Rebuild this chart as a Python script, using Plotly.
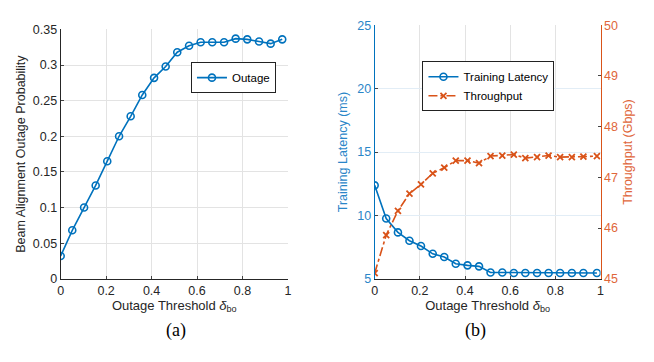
import plotly.graph_objects as go

# ---- data ----
x_thr = [0.0, 0.051, 0.103, 0.154, 0.205, 0.257, 0.308, 0.359, 0.411, 0.462,
         0.513, 0.565, 0.616, 0.667, 0.719, 0.770, 0.821, 0.873, 0.924, 0.975]
outage = [0.032, 0.068, 0.100, 0.131, 0.165, 0.200, 0.228, 0.258, 0.282, 0.298,
          0.318, 0.327, 0.332, 0.332, 0.332, 0.337, 0.336, 0.333, 0.330, 0.336]
x_thr_b = [0.0, 0.051, 0.103, 0.154, 0.205, 0.257, 0.308, 0.359, 0.411, 0.462,
           0.513, 0.565, 0.616, 0.667, 0.719, 0.770, 0.821, 0.873, 0.924, 0.984]
latency = [12.37, 9.75, 8.66, 8.0, 7.58, 6.97, 6.72, 6.19, 6.06, 5.98,
           5.5, 5.5, 5.45, 5.45, 5.45, 5.45, 5.45, 5.45, 5.45, 5.45]
throughput = [45.11, 45.86, 46.34, 46.68, 46.86, 47.08, 47.19, 47.33, 47.33, 47.28,
              47.42, 47.43, 47.45, 47.38, 47.40, 47.43, 47.40, 47.40, 47.41, 47.42]

x_ticks = [0, 0.2, 0.4, 0.6, 0.8, 1]
x_ticklabels = ["0", "0.2", "0.4", "0.6", "0.8", "1"]
y1_ticks = [0, 0.05, 0.1, 0.15, 0.2, 0.25, 0.3, 0.35]
y1_ticklabels = ["0", "0.05", "0.1", "0.15", "0.2", "0.25", "0.3", "0.35"]
y2_ticks = [5, 10, 15, 20, 25]
y3_ticks = [45, 46, 47, 48, 49, 50]

BLUE = "#0072BD"
BLUE_TXT = "#2a86c8"
ORANGE = "#D95319"
ORANGE_TXT = "#e0663a"
TXT = "#262626"
GRID = "#e3e3e3"
GRID_B = "#e2edf6"
FONT = "Liberation Sans"
SERIF = "Liberation Serif"

fig = go.Figure()

fig.add_trace(go.Scatter(
    x=x_thr, y=outage, name="Outage", mode="lines+markers",
    line=dict(color=BLUE, width=1.6),
    marker=dict(symbol="circle-open", size=7, color=BLUE, line=dict(width=1.6)),
    xaxis="x", yaxis="y", legend="legend"))

fig.add_trace(go.Scatter(
    x=x_thr_b, y=latency, name="Training Latency", mode="lines+markers",
    line=dict(color=BLUE, width=1.6),
    marker=dict(symbol="circle-open", size=7, color=BLUE, line=dict(width=1.6)),
    xaxis="x2", yaxis="y2", legend="legend2"))

fig.add_trace(go.Scatter(
    x=x_thr_b, y=throughput, name="Throughput", mode="lines+markers",
    line=dict(color=ORANGE, width=1.6, dash="dashdot"),
    marker=dict(symbol="x-thin-open", size=6, color=ORANGE, line=dict(width=1.8, color=ORANGE)),
    xaxis="x2", yaxis="y3", legend="legend2"))

bottom = 1 - 282.7 / 362
TICK = 12.5
XT = 13
YT = 12.5


def ax(**kw):
    base = dict(showgrid=True, gridcolor=GRID, gridwidth=1, zeroline=False,
                ticks="inside", ticklen=3, showline=True, mirror=False,
                tickfont=dict(family=FONT, size=TICK, color=TXT))
    base.update(kw)
    return base


fig.update_layout(
    width=654, height=362,
    margin=dict(l=0, r=0, t=0, b=0),
    paper_bgcolor="white", plot_bgcolor="white",
    font=dict(family=FONT, color=TXT),
    showlegend=True,
    xaxis=ax(domain=[58.3 / 654, 288 / 654], range=[0, 1], tickvals=x_ticks,
             ticktext=x_ticklabels, linecolor=TXT, anchor="y",
             title=dict(text="Outage Threshold <i>δ</i><sub>bo</sub>",
                        font=dict(family=FONT, size=XT, color=TXT), standoff=3)),
    yaxis=ax(domain=[bottom, 1 - 23.3 / 362], range=[0, 0.35], tickvals=y1_ticks,
             ticktext=y1_ticklabels, linecolor=TXT, anchor="x",
             title=dict(text="Beam Alignment Outage Probability",
                        font=dict(family=FONT, size=YT, color=TXT), standoff=4)),
    xaxis2=ax(domain=[375.7 / 654, 604 / 654], range=[0, 1], tickvals=x_ticks,
              ticktext=x_ticklabels, linecolor=TXT, anchor="y2",
              title=dict(text="Outage Threshold <i>δ</i><sub>bo</sub>",
                         font=dict(family=FONT, size=XT, color=TXT), standoff=3)),
    yaxis2=ax(domain=[bottom, 1 - 19 / 362], range=[5, 25], tickvals=y2_ticks,
              linecolor=BLUE, anchor="x2", gridcolor=GRID_B,
              tickfont=dict(family=FONT, size=TICK, color=BLUE_TXT),
              title=dict(text="Training Latency (ms)",
                         font=dict(family=FONT, size=YT, color=BLUE_TXT), standoff=6)),
    yaxis3=dict(range=[45, 50], tickvals=y3_ticks, overlaying="y2", side="right",
                anchor="x2", linecolor=ORANGE, showgrid=False, zeroline=False,
                ticks="inside", ticklen=3, showline=True,
                tickfont=dict(family=FONT, size=TICK, color=ORANGE_TXT),
                title=dict(text="Throughput (Gbps)",
                           font=dict(family=FONT, size=YT, color=ORANGE_TXT), standoff=6)),
    legend=dict(x=190 / 654, y=1 - 73.5 / 362, xanchor="left", yanchor="middle",
                bgcolor="white", bordercolor="#222222", borderwidth=1,
                font=dict(family=FONT, size=11.5, color="black"),
                itemwidth=30, tracegroupgap=0),
    legend2=dict(x=424 / 654, y=1 - 82.5 / 362, xanchor="left", yanchor="middle",
                 bgcolor="white", bordercolor="#222222", borderwidth=1,
                 font=dict(family=FONT, size=11.5, color="black"),
                 itemwidth=30, tracegroupgap=0),
    annotations=[
        dict(text="(a)", x=163 / 654, y=1 - 350 / 362, xref="paper", yref="paper",
             showarrow=False, font=dict(family=SERIF, size=18, color="black")),
        dict(text="(b)", x=490 / 654, y=1 - 350 / 362, xref="paper", yref="paper",
             showarrow=False, font=dict(family=SERIF, size=18, color="black")),
    ],
)

fig.write_html("out.html")
